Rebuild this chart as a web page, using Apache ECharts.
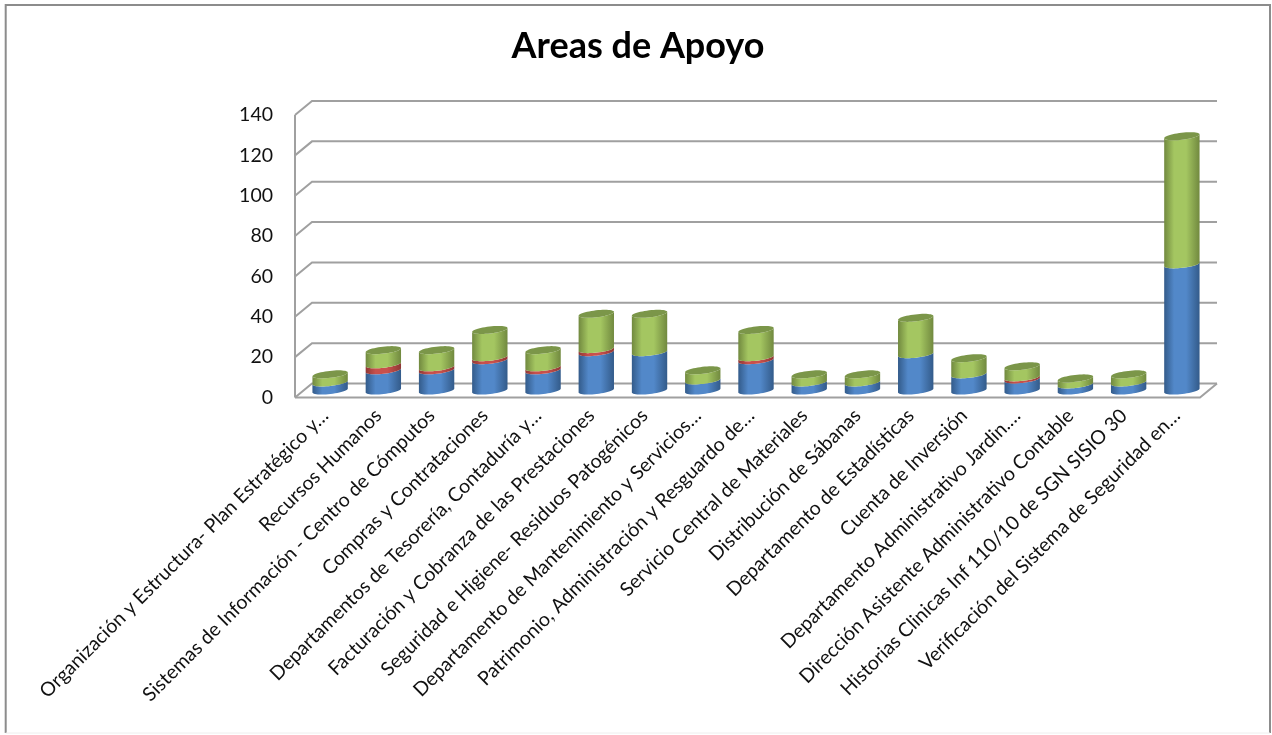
<!DOCTYPE html>
<html><head><meta charset="utf-8">
<style>html,body{margin:0;padding:0;background:#fff}#c{width:1272px;height:735px}</style>
<script src="https://cdn.jsdelivr.net/npm/echarts@6/dist/echarts.min.js"></script>
</head><body><div id="c"></div>
<script>
var categories = ["Organización y Estructura- Plan Estratégico y…","Recursos Humanos","Sistemas de Información - Centro de Cómputos","Compras y Contrataciones","Departamentos de Tesorería, Contaduría y…","Facturación y Cobranza de las Prestaciones","Seguridad e Higiene- Residuos Patogénicos","Departamento de Mantenimiento y Servicios…","Patrimonio, Administración y Resguardo de…","Servicio Central de Materiales","Distribución de Sábanas","Departamento de Estadísticas","Cuenta de Inversión","Departamento Administrativo Jardin.…","Dirección Asistente Administrativo Contable","Historias Clinicas Inf 110/10 de SGN SISIO 30","Verificación del Sistema de Seguridad en…"];
var blueValues  = [4,10,10,15,10,19,19,5,15,4,4,18,8,5.5,3,4,62.5];
var redValues   = [0,3,1.5,1.5,1.5,1.5,0,0,1.5,0,0,0,0,1,0,0,0];
var greenValues = [4,7,8.5,13.5,8.5,17.5,19,5,13.5,4,4,18,8,5.5,3,4,63.5];
var yTicks = [0,20,40,60,80,100,120,140];

var DX = 8.5, DY = 7, A = 17.8, B = 3.5, ROT = 6.5 * Math.PI / 180;
var FONT = 'Lato';
function ell(cx, cy, t) {
  var x = A * Math.cos(t), y = B * Math.sin(t);
  return [cx + x * Math.cos(ROT) + y * Math.sin(ROT), cy - x * Math.sin(ROT) + y * Math.cos(ROT)];
}
function grad(edgeL, mid, edgeR) {
  return new echarts.graphic.LinearGradient(0, 0, 1, 0, [
    {offset: 0, color: edgeL}, {offset: 0.28, color: mid}, {offset: 0.62, color: mid}, {offset: 1, color: edgeR}]);
}
function cylinder(fillFn, capColor) {
  return function (params, api) {
    var i = api.value(0), lo = api.value(1), hi = api.value(2);
    if (hi <= lo) return null;
    var p0 = api.coord([i, lo]), p1 = api.coord([i, hi]);
    var cx = p0[0], y0 = p0[1] - DY, y1 = p1[1] - DY, pts = [], k, n = 24;
    for (k = 0; k <= n; k++) pts.push(ell(cx, y0, Math.PI * k / n));
    for (k = n; k >= 0; k--) pts.push(ell(cx, y1, Math.PI * k / n));
    var kids = [{type: 'polygon', shape: {points: pts}, style: {fill: fillFn()}}];
    if (capColor) {
      var cap = [];
      for (k = 0; k < 48; k++) cap.push(ell(cx, y1, 2 * Math.PI * k / 48));
      kids.push({type: 'polygon', shape: {points: cap}, style: {fill: capColor}});
    }
    return {type: 'group', children: kids};
  };
}
function walls(params, api) {
  var v = api.value(0), g = params.coordSys, y = api.coord([0, v])[1];
  var L = g.x - DX, R = g.x + g.width - DX, bx = 2 * DX, by = 2 * DY;
  var line = {stroke: '#a0a0a0', lineWidth: 2, fill: null};
  var kids = [
    {type: 'polyline', shape: {points: [[L, y], [L + bx, y - by], [R + bx, y - by]]}, style: line}
  ];
  if (v === 0) {
    kids.push({type: 'polyline', shape: {points: [[L, y], [R, y], [R + bx, y - by]]}, style: line});
    kids.push({type: 'line', shape: {x1: L, y1: g.y, x2: L, y2: y}, style: line});
  }
  return {type: 'group', children: kids};
}
function stackData() {
  return {
    blue: blueValues.map(function (v, i) { return [i, 0, v]; }),
    red: redValues.map(function (v, i) { return [i, blueValues[i], blueValues[i] + v]; }),
    green: greenValues.map(function (v, i) { var s = blueValues[i] + redValues[i]; return [i, s, s + v]; })
  };
}
var sd = stackData();
var chart = echarts.init(document.getElementById('c'), null, {renderer: 'canvas'});
chart.setOption({
  animation: false,
  backgroundColor: '#fff',
  title: {text: 'Areas de Apoyo', left: 633, top: 23, textAlign: 'center',
    textStyle: {fontFamily: FONT, fontSize: 36, fontWeight: 'bold', color: '#000'}},
  grid: {left: 303.5, width: 905, top: 115, bottom: 337.5},
  xAxis: {type: 'category', data: categories,
    axisLine: {show: false}, axisTick: {show: false},
    axisLabel: {rotate: 45, interval: 0, margin: 10, padding: [0, 7, 0, 0], fontFamily: FONT, fontSize: 19.5, color: '#111'}},
  yAxis: {type: 'value', min: 0, max: 140, interval: 20, offset: 8.5,
    axisLine: {show: false}, axisTick: {show: false}, splitLine: {show: false},
    axisLabel: {margin: 22, fontFamily: FONT, fontSize: 19.5, color: '#111'}},
  graphic: [
    {type: 'polyline', z: -1, shape: {points: [[5.7, 733], [5.7, 5], [1270, 5], [1270, 733]]},
      style: {fill: null, stroke: '#8c8c8c', lineWidth: 2}},
    {type: 'line', z: -1, shape: {x1: 5.7, y1: 733, x2: 1270, y2: 733},
      style: {stroke: '#eeeeee', lineWidth: 1}}
  ],
  series: [
    {type: 'custom', name: 'Ejes', z: 1, data: yTicks.map(function (v) { return [v]; }), renderItem: walls, encode: {y: 0}, silent: true},
    {type: 'custom', name: 'Serie 1', z: 2, data: sd.blue, encode: {x: 0, y: 2},
      renderItem: cylinder(function () { return grad('#335b8a', '#5288c9', '#335b8a'); })},
    {type: 'custom', name: 'Serie 2', z: 3, data: sd.red, encode: {x: 0, y: 2},
      renderItem: cylinder(function () { return grad('#8f3835', '#c8504c', '#8f3835'); })},
    {type: 'custom', name: 'Serie 3', z: 4, data: sd.green, encode: {x: 0, y: 2},
      renderItem: cylinder(function () { return grad('#71893f', '#a4c661', '#71893f'); }, '#7b9649')}
  ]
});
</script></body></html>
